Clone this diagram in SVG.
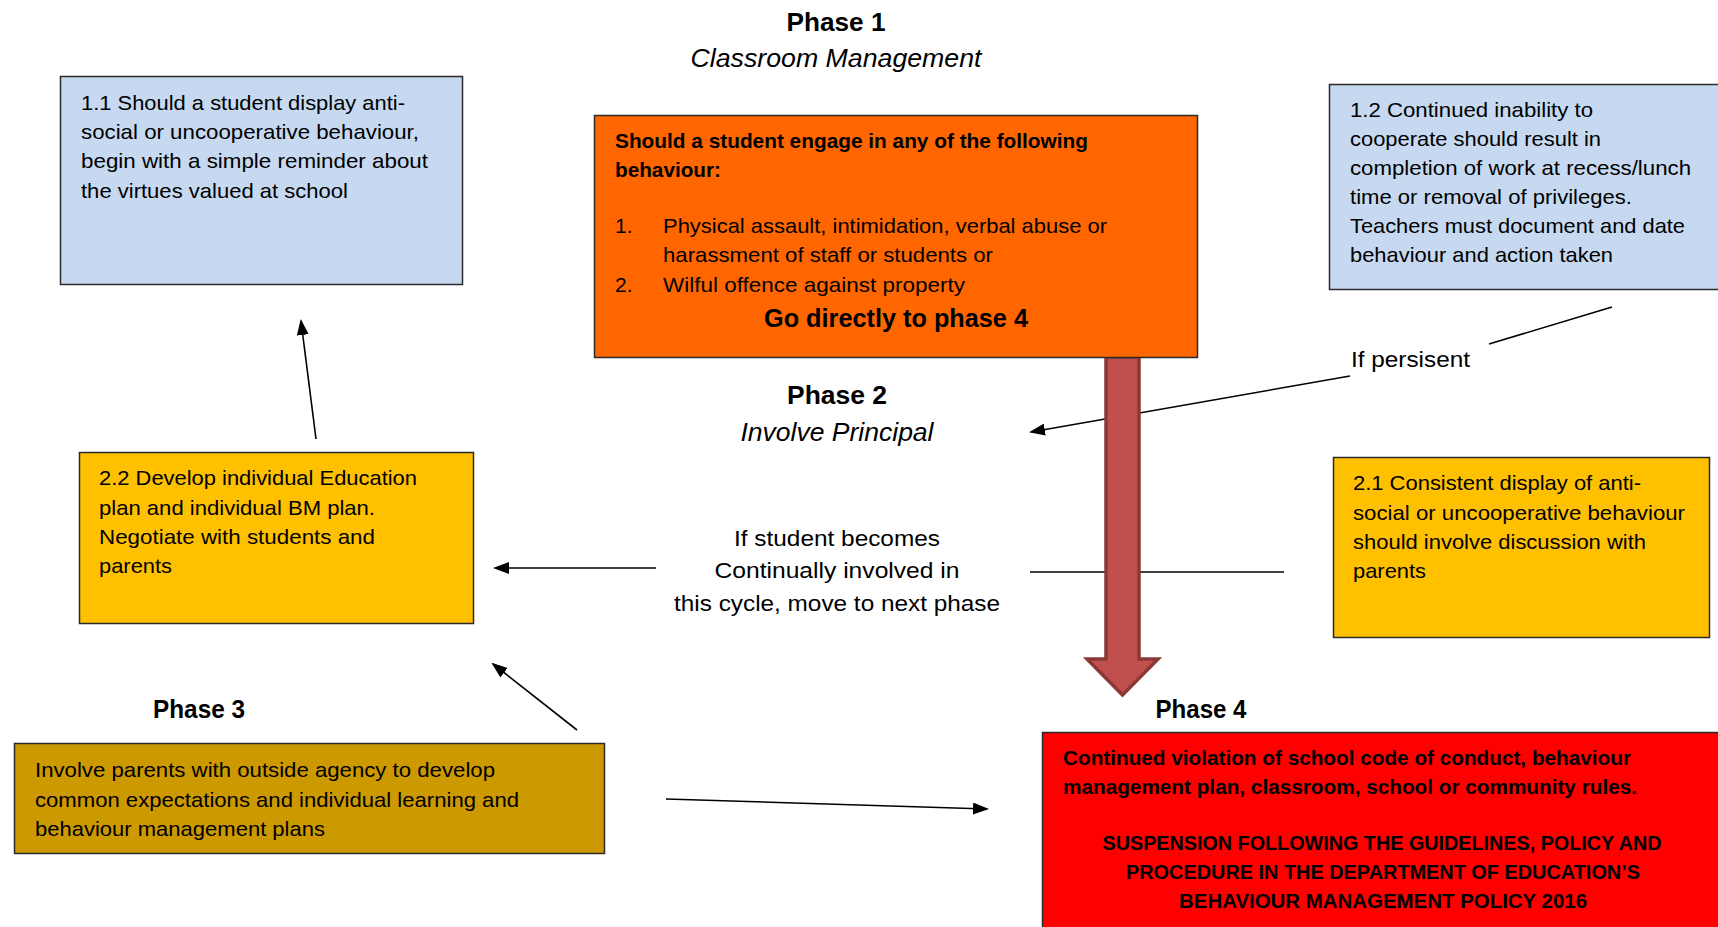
<svg xmlns="http://www.w3.org/2000/svg" width="1718" height="927" viewBox="0 0 1718 927">
<style>
text{font-family:"Liberation Sans",Arial,sans-serif;fill:#000}
.t{font-size:21px}
.b{font-weight:bold}
.h{font-size:26px;font-weight:bold;text-anchor:middle}
.i{font-size:26px;font-style:italic;text-anchor:middle}
.lbl{font-size:22px}
.box{stroke:#2b2b2b;stroke-width:1.5}
.ln{stroke:#000;stroke-width:1.6;fill:none}
</style>
<defs>
<marker id="ah" markerWidth="16" markerHeight="12" refX="14" refY="6" orient="auto" markerUnits="userSpaceOnUse">
<path d="M0,0 L16,6 L0,12 z" fill="#000"/>
</marker>
</defs>
<rect width="1718" height="927" fill="#fff"/>

<g id="connectors">
<path class="ln" d="M316,439 L301,321" marker-end="url(#ah)"/>
<path class="ln" d="M656,568 L495,568" marker-end="url(#ah)"/>
<path class="ln" d="M1030,572 L1284,572"/>
<path class="ln" d="M577,730 L493,664" marker-end="url(#ah)"/>
<path class="ln" d="M666,799 L987,809" marker-end="url(#ah)"/>
<path class="ln" d="M1489,344 L1612,307"/>
<path class="ln" d="M1350,376 L1031,432" marker-end="url(#ah)"/>
<path d="M1106,357 L1106,659 L1087,659 L1122.5,695 L1158,659 L1139,659 L1139,357 Z" fill="#C0504D" stroke="#8C3836" stroke-width="3.5" stroke-linejoin="miter"/>
</g>

<g id="phase1-title">
<text class="h" x="836" y="31" textLength="99" lengthAdjust="spacingAndGlyphs">Phase 1</text>
<text class="i" x="836" y="67" textLength="291" lengthAdjust="spacingAndGlyphs">Classroom Management</text>
</g>

<g id="node-1-1">
<rect class="box" x="60.5" y="76.5" width="402" height="208" fill="#C6D9F1"/>
<text class="t" x="81" y="110" textLength="324" lengthAdjust="spacingAndGlyphs">1.1 Should a student display anti-</text>
<text class="t" x="81" y="139" textLength="338" lengthAdjust="spacingAndGlyphs">social or uncooperative behaviour,</text>
<text class="t" x="81" y="168" textLength="347" lengthAdjust="spacingAndGlyphs">begin with a simple reminder about</text>
<text class="t" x="81" y="198" textLength="267" lengthAdjust="spacingAndGlyphs">the virtues valued at school</text>
</g>

<g id="node-phase1">
<rect class="box" x="594.5" y="115.5" width="603" height="242" fill="#FF6600"/>
<text class="t b" x="615" y="148" textLength="473" lengthAdjust="spacingAndGlyphs">Should a student engage in any of the following</text>
<text class="t b" x="615" y="177" textLength="106" lengthAdjust="spacingAndGlyphs">behaviour:</text>
<text class="t" x="615" y="233">1.</text>
<text class="t" x="663" y="233" textLength="444" lengthAdjust="spacingAndGlyphs">Physical assault, intimidation, verbal abuse or</text>
<text class="t" x="663" y="262" textLength="330" lengthAdjust="spacingAndGlyphs">harassment of staff or students or</text>
<text class="t" x="615" y="292">2.</text>
<text class="t" x="663" y="292" textLength="302" lengthAdjust="spacingAndGlyphs">Wilful offence against property</text>
<text class="b" x="896" y="327" font-size="26" text-anchor="middle" textLength="264" lengthAdjust="spacingAndGlyphs">Go directly to phase 4</text>
</g>

<g id="node-1-2">
<rect class="box" x="1329.5" y="84.5" width="400" height="205" fill="#C6D9F1"/>
<text class="t" x="1350" y="117" textLength="243" lengthAdjust="spacingAndGlyphs">1.2 Continued inability to</text>
<text class="t" x="1350" y="146" textLength="251" lengthAdjust="spacingAndGlyphs">cooperate should result in</text>
<text class="t" x="1350" y="175" textLength="341" lengthAdjust="spacingAndGlyphs">completion of work at recess/lunch</text>
<text class="t" x="1350" y="204" textLength="282" lengthAdjust="spacingAndGlyphs">time or removal of privileges.</text>
<text class="t" x="1350" y="233" textLength="335" lengthAdjust="spacingAndGlyphs">Teachers must document and date</text>
<text class="t" x="1350" y="262" textLength="263" lengthAdjust="spacingAndGlyphs">behaviour and action taken</text>
</g>

<g id="label-if-persisent">
<text class="lbl" x="1351" y="367" textLength="119" lengthAdjust="spacingAndGlyphs">If persisent</text>
</g>

<g id="phase2-title">
<text class="h" x="837" y="404" textLength="100" lengthAdjust="spacingAndGlyphs">Phase 2</text>
<text class="i" x="837" y="441" textLength="193" lengthAdjust="spacingAndGlyphs">Involve Principal</text>
</g>

<g id="label-cycle">
<text class="lbl" x="837" y="546" text-anchor="middle" textLength="206" lengthAdjust="spacingAndGlyphs">If student becomes</text>
<text class="lbl" x="837" y="578" text-anchor="middle" textLength="245" lengthAdjust="spacingAndGlyphs">Continually involved in</text>
<text class="lbl" x="837" y="611" text-anchor="middle" textLength="326" lengthAdjust="spacingAndGlyphs">this cycle, move to next phase</text>
</g>

<g id="node-2-2">
<rect class="box" x="79.5" y="452.5" width="394" height="171" fill="#FFC000"/>
<text class="t" x="99" y="485" textLength="318" lengthAdjust="spacingAndGlyphs">2.2 Develop individual Education</text>
<text class="t" x="99" y="515" textLength="276" lengthAdjust="spacingAndGlyphs">plan and individual BM plan.</text>
<text class="t" x="99" y="544" textLength="276" lengthAdjust="spacingAndGlyphs">Negotiate with students and</text>
<text class="t" x="99" y="573" textLength="73" lengthAdjust="spacingAndGlyphs">parents</text>
</g>

<g id="node-2-1">
<rect class="box" x="1333.5" y="457.5" width="376" height="180" fill="#FFC000"/>
<text class="t" x="1353" y="490" textLength="288" lengthAdjust="spacingAndGlyphs">2.1 Consistent display of anti-</text>
<text class="t" x="1353" y="520" textLength="332" lengthAdjust="spacingAndGlyphs">social or uncooperative behaviour</text>
<text class="t" x="1353" y="549" textLength="293" lengthAdjust="spacingAndGlyphs">should involve discussion with</text>
<text class="t" x="1353" y="578" textLength="73" lengthAdjust="spacingAndGlyphs">parents</text>
</g>

<g id="node-phase3">
<text class="h" x="199" y="718" font-size="24" textLength="92" lengthAdjust="spacingAndGlyphs">Phase 3</text>
<rect class="box" x="14.5" y="743.5" width="590" height="110" fill="#CC9900"/>
<text class="t" x="35" y="777" textLength="460" lengthAdjust="spacingAndGlyphs">Involve parents with outside agency to develop</text>
<text class="t" x="35" y="807" textLength="484" lengthAdjust="spacingAndGlyphs">common expectations and individual learning and</text>
<text class="t" x="35" y="836" textLength="290" lengthAdjust="spacingAndGlyphs">behaviour management plans</text>
</g>

<g id="node-phase4">
<text class="h" x="1201" y="718" font-size="24" textLength="91" lengthAdjust="spacingAndGlyphs">Phase 4</text>
<rect class="box" x="1042.5" y="732.5" width="690" height="210" fill="#FF0000"/>
<text class="t b" x="1063" y="765" textLength="568" lengthAdjust="spacingAndGlyphs">Continued violation of school code of conduct, behaviour</text>
<text class="t b" x="1063" y="794" textLength="574" lengthAdjust="spacingAndGlyphs">management plan, classroom, school or community rules.</text>
<text class="t b" x="1382" y="850" text-anchor="middle" textLength="559" lengthAdjust="spacingAndGlyphs">SUSPENSION FOLLOWING THE GUIDELINES, POLICY AND</text>
<text class="t b" x="1383" y="879" text-anchor="middle" textLength="514" lengthAdjust="spacingAndGlyphs">PROCEDURE IN THE DEPARTMENT OF EDUCATION’S</text>
<text class="t b" x="1383" y="908" text-anchor="middle" textLength="408" lengthAdjust="spacingAndGlyphs">BEHAVIOUR MANAGEMENT POLICY 2016</text>
</g>
</svg>
